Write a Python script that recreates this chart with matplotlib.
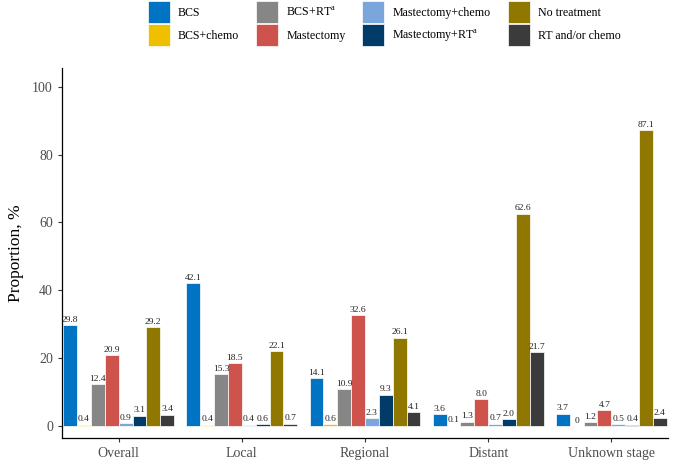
import matplotlib
matplotlib.use("Agg")
import matplotlib.pyplot as plt
import numpy as np

plt.rcParams["font.family"] = ["Liberation Serif", "DejaVu Serif"]
plt.rcParams["mathtext.fontset"] = "custom"
plt.rcParams["mathtext.rm"] = "Liberation Serif"

stages = ["Overall", "Local", "Regional", "Distant", "Unknown stage"]
treatments = [
    "BCS", "BCS+chemo", r"BCS+RT$^{\mathrm{a}}$", "Mastectomy",
    "Mastectomy+chemo", r"Mastectomy+RT$^{\mathrm{a}}$", "No treatment", "RT and/or chemo",
]
colors = ["#0073C2", "#EFC000", "#868686", "#CD534C", "#7AA6DC", "#003C67", "#8F7700", "#3B3B3B"]

bcs = [29.8, 42.1, 14.1, 3.6, 3.7]
bcs_chemo = [0.4, 0.4, 0.6, 0.1, 0.0]
bcs_rt = [12.4, 15.3, 10.9, 1.3, 1.2]
mastectomy = [20.9, 18.5, 32.6, 8.0, 4.7]
mast_chemo = [0.9, 0.4, 2.3, 0.7, 0.5]
mast_rt = [3.1, 0.6, 9.3, 2.0, 0.4]
no_treatment = [29.2, 22.1, 26.1, 62.6, 87.1]
rt_chemo = [3.4, 0.7, 4.1, 21.7, 2.4]
series = [bcs, bcs_chemo, bcs_rt, mastectomy, mast_chemo, mast_rt, no_treatment, rt_chemo]

fig = plt.figure(figsize=(6.85, 4.63), dpi=100)
ax = fig.add_axes([62 / 685, 1 - 438 / 463, 606 / 685, 370 / 463])

x = np.arange(len(stages))
n = len(series)
width = 0.9 / n
for i, (vals, name, col) in enumerate(zip(series, treatments, colors)):
    pos = x - 0.45 + width * (i + 0.5)
    bars = ax.bar(pos, vals, width, color=col, edgecolor="white", linewidth=0.5, label=name)
    labels = ["0" if v == 0 else f"{v:.1f}" for v in vals]
    ax.bar_label(bars, labels=labels, padding=1, fontsize=6.8, color="#222222")

ax.set_xlim(-0.46, 4.46)
ax.set_ylim(-3.5, 105.5)
ax.set_xticks(x)
ax.set_xticklabels(stages)
ax.set_yticks([0, 20, 40, 60, 80, 100])
ax.set_ylabel("Proportion, %", fontsize=12.5, labelpad=6)
ax.tick_params(axis="both", labelsize=10, labelcolor="#4D4D4D", color="#333333", length=3)
for side in ["top", "right"]:
    ax.spines[side].set_visible(False)
for side in ["left", "bottom"]:
    ax.spines[side].set_linewidth(0.9)

fig.legend(
    loc="upper left", bbox_to_anchor=(142 / 685, 1.01), ncol=4, frameon=False,
    fontsize=8.6, handlelength=1.84, handleheight=2.45, columnspacing=1.42,
    labelspacing=0.08, handletextpad=0.67, borderaxespad=0.1,
)

fig.savefig("out.png", dpi=100)
